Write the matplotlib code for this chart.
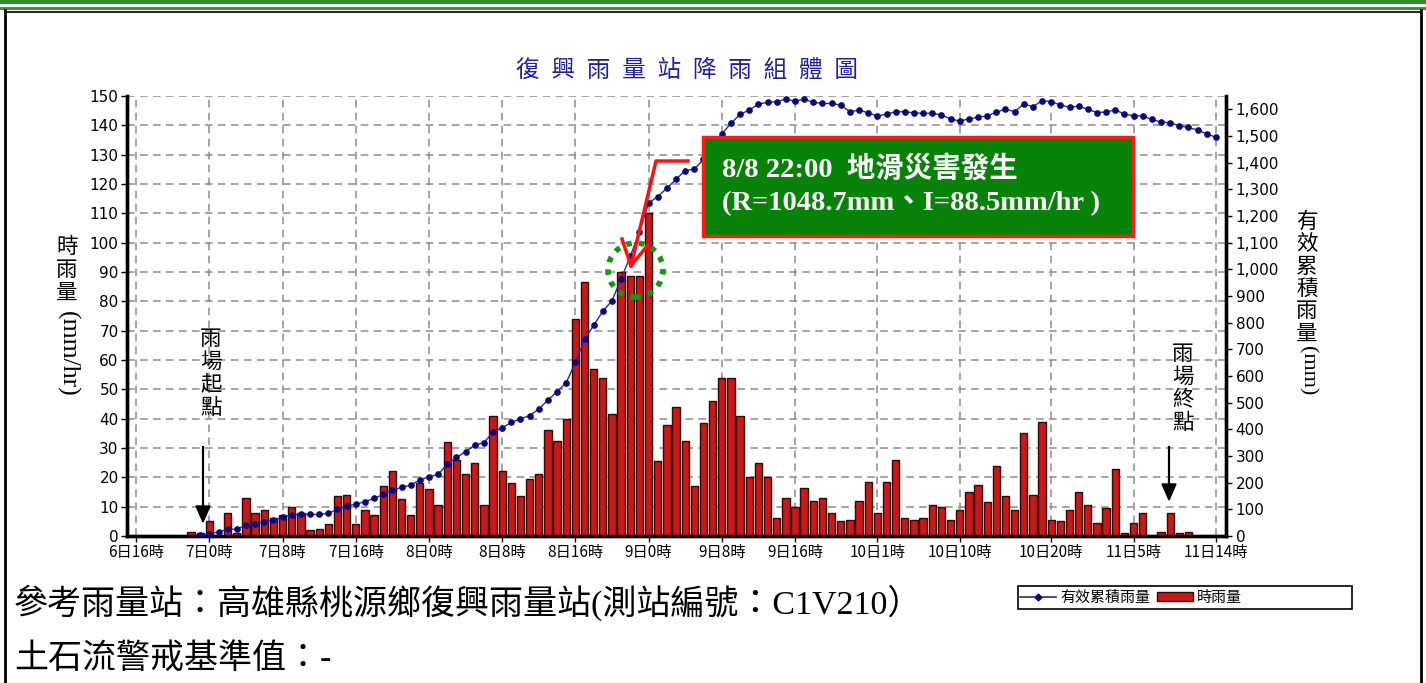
import matplotlib
matplotlib.use("Agg")
import matplotlib.pyplot as plt
from matplotlib.patches import Rectangle, Ellipse, Patch
from matplotlib.lines import Line2D
from matplotlib.ticker import FuncFormatter, MultipleLocator
import numpy as np

# ---------------- data ----------------
tick_pos = [0, 8, 16, 24, 32, 40, 48, 56, 64, 72, 81, 90, 100, 109, 118]
tick_labels = ["6日16時", "7日0時", "7日8時", "7日16時", "8日0時", "8日8時", "8日16時",
               "9日0時", "9日8時", "9日16時", "10日1時", "10日10時", "10日20時",
               "11日5時", "11日14時"]

hourly_rain = [0, 0, 0, 0, 0, 0, 1.5, 1, 5, 0.5, 8, 1, 13, 8, 9, 6, 7, 10, 8, 2,
               2.5, 4, 13.5, 14, 4, 9, 7, 17, 22, 12.5, 7, 18, 16, 10.5, 32, 26, 21, 25, 10.5, 41,
               22, 18, 13.5, 19.5, 21, 36, 32.5, 40, 74, 86.5, 57, 54, 41.5, 90, 88.5, 88.5, 110, 25.5, 38, 44,
               32.5, 17, 38.5, 46, 54, 54, 41, 20, 25, 20, 6, 13, 10, 16.5, 12, 13, 8, 5, 5.5, 12,
               18.5, 8, 18.5, 26, 6, 5.5, 6, 10.5, 10, 5.5, 9, 15, 17.5, 11.5, 24, 13.5, 9, 35, 14, 39,
               5.5, 5, 9, 15, 10.5, 4.5, 9.5, 23, 1, 4.5, 8, 0, 1.5, 8, 1, 1.5, 0, 0, 0]

cum_start = 7
effective_cum = [2, 7.5, 16, 25, 26, 41, 45, 54, 60, 70, 79, 81, 81, 81, 85, 100, 112, 119, 129, 141,
                 156, 172, 182, 191, 210, 222, 231, 269, 295, 316, 341, 350, 389, 406, 426, 440, 451, 476, 510, 541,
                 575, 651, 738, 790, 843, 882, 965, 1048.7, 1141, 1248, 1273, 1304, 1338, 1370, 1376, 1412, 1458, 1508, 1547, 1582,
                 1597, 1620, 1626, 1629, 1638, 1631, 1638, 1626, 1622, 1622, 1616, 1591, 1597, 1587, 1575, 1582, 1591, 1591, 1587, 1585,
                 1585, 1579, 1564, 1556, 1564, 1570, 1576, 1589, 1601, 1591, 1620, 1610, 1632, 1629, 1616, 1608, 1612, 1600, 1588, 1590,
                 1598, 1582, 1576, 1575, 1562, 1552, 1550, 1538, 1532, 1522, 1508, 1495]

title = "復興雨量站降雨組體圖"
legend_line_label = "有效累積雨量"
legend_bar_label = "時雨量"
box_line1 = "8/8 22:00  地滑災害發生"
box_line2 = "(R=1048.7mm、I=88.5mm/hr )"
footer1 = "參考雨量站：高雄縣桃源鄉復興雨量站(測站編號：C1V210）"
footer2 = "土石流警戒基準值：-"

# ---------------- figure ----------------
W, H = 1426, 683
fig = plt.figure(figsize=(W / 100, H / 100), dpi=100)
fig.patch.set_facecolor("white")

CJK = ["Noto Sans CJK TC", "DejaVu Sans"]
SERIF_CJK = ["Liberation Serif", "Noto Sans CJK TC"]


def fx(px):
    return px / W


def fy(py):
    return 1 - py / H


ax = fig.add_axes([fx(127), fy(536), fx(1226) - fx(127), fy(96) - fy(536)])
ax2 = ax.twinx()

x_bars = np.arange(len(hourly_rain))
ax.bar(x_bars, hourly_rain, width=0.8, color="#c81818", edgecolor="#3a0505",
       linewidth=1.0, zorder=3)

x_cum = np.arange(cum_start, cum_start + len(effective_cum))
ax2.plot(x_cum, effective_cum, color="#2a2aa0", linewidth=1.0, marker="o",
         markersize=3.8, markerfacecolor="#0a0a80", markeredgecolor="#0a0a80", zorder=4)

ax.set_xlim(-1, 119.1)
ax.set_ylim(0, 150)
ax2.set_ylim(0, 1650)

ax.yaxis.set_major_locator(MultipleLocator(10))
ax2.yaxis.set_major_locator(MultipleLocator(100))
ax2.yaxis.set_major_formatter(FuncFormatter(lambda v, p: f"{int(v):,}" if v <= 1600 else ""))

ax.set_xticks(tick_pos)
ax.set_xticklabels(tick_labels, family=CJK, fontsize=13)

ax.grid(True, color="#8c8c8c", linestyle=(0, (5, 3.5)), linewidth=1.1)
ax.set_axisbelow(True)

for a in (ax, ax2):
    for s in a.spines.values():
        s.set_linewidth(2.4)
        s.set_color("black")
    a.spines["top"].set_visible(False)
ax.tick_params(axis="both", direction="out", length=4, width=1, labelsize=11, pad=2)
ax2.tick_params(axis="y", direction="out", length=4, width=1, labelsize=11, pad=3)
ax.tick_params(axis="x", pad=2)

# ---------------- axis labels (vertical, stacked) ----------------
fig.text(fx(67), fy(236), "時\n雨\n量", family=CJK, fontsize=15.5, ha="center", va="top",
         linespacing=1.05)
fig.text(fx(67), fy(354), "(mm/hr)", family=["Liberation Serif"], fontsize=18.5, rotation=-90,
         ha="center", va="center")
fig.text(fx(1307), fy(211), "有\n效\n累\n積\n雨\n量", family=CJK, fontsize=15.5, ha="center",
         va="top", linespacing=1.02)
fig.text(fx(1307), fy(371), "(mm)", family=["Liberation Serif"], fontsize=16, rotation=-90,
         ha="center", va="center")

# ---------------- title ----------------
fig.text(fx(687), fy(70), "\u2002".join(title), family=CJK, fontsize=17, color="#1f1fa6",
         ha="center", va="center")

# ---------------- rain start / end annotations ----------------
fig.text(fx(211), fy(328), "雨\n場\n起\n點", family=CJK, fontsize=15.5, ha="center", va="top",
         linespacing=1.05)
fig.text(fx(1183), fy(343), "雨\n場\n終\n點", family=CJK, fontsize=15.5, ha="center", va="top",
         linespacing=1.05)
fig.add_artist(Line2D([fx(203), fx(203)], [fy(447), fy(510)], color="black", lw=1.6))
fig.patches.append(plt.Polygon([[fx(196), fy(506)], [fx(210), fy(506)], [fx(203), fy(522)]],
                               closed=True, color="black", transform=fig.transFigure, figure=fig))
fig.add_artist(Line2D([fx(1169), fx(1169)], [fy(447), fy(488)], color="black", lw=1.6))
fig.patches.append(plt.Polygon([[fx(1162), fy(484)], [fx(1176), fy(484)], [fx(1169), fy(500)]],
                               closed=True, color="black", transform=fig.transFigure, figure=fig))

# ---------------- event box ----------------
fig.patches.append(Rectangle((fx(703), fy(236)), fx(1133) - fx(703), fy(137) - fy(236),
                             facecolor="#088208", edgecolor="#ff1a1a", linewidth=2.5,
                             transform=fig.transFigure, figure=fig, zorder=5))
fig.text(fx(722), fy(170), box_line1, family=SERIF_CJK, fontsize=20.5, weight="bold",
         color="white", ha="left", va="center", zorder=6)
fig.text(fx(722), fy(204), box_line2, family=SERIF_CJK, fontsize=20.5, weight="bold",
         color="white", ha="left", va="center", zorder=6)

# connector + arrow
fig.add_artist(Line2D([fx(688), fx(656), fx(631)], [fy(161), fy(161), fy(266)],
                      color="#ff1010", lw=2.5, zorder=6))
fig.add_artist(Line2D([fx(622), fx(631), fx(647)], [fy(239), fy(266), fy(246)],
                      color="#ff1010", lw=2.5, zorder=6))
fig.patches.append(Ellipse((fx(635.5), fy(270)), 55 / W, 54 / H, fill=False,
                           edgecolor="#139913", linewidth=4, linestyle=(0, (1, 1.3)),
                           transform=fig.transFigure, figure=fig, zorder=6))

# ---------------- legend ----------------
fig.patches.append(Rectangle((fx(1018), fy(609)), fx(1352) - fx(1018), fy(586) - fy(609),
                             facecolor="white", edgecolor="black", linewidth=1.2,
                             transform=fig.transFigure, figure=fig))
handles = [Line2D([], [], color="#2a2aa0", lw=1.2, marker="D", markersize=3.5,
                  markerfacecolor="#0a0a80", markeredgecolor="#0a0a80"),
           Patch(facecolor="#c81818", edgecolor="#3a0505")]
fig.legend(handles, [legend_line_label, legend_bar_label], loc="center left",
           bbox_to_anchor=(fx(1020), fy(597.5)), ncol=2, frameon=False,
           prop={"family": CJK, "size": 10.8}, handlelength=2.4, handleheight=0.6,
           handletextpad=0.3, columnspacing=0.4, borderpad=0.0, borderaxespad=0.0)

# ---------------- footer text ----------------
fig.text(fx(14), fy(603), footer1, family=SERIF_CJK, fontsize=24.5, ha="left", va="center")
fig.text(fx(14), fy(659), footer2, family=SERIF_CJK, fontsize=24.5, ha="left", va="center")

# ---------------- outer frame ----------------
fig.add_artist(Line2D([0, 1], [fy(2), fy(2)], color="#2f8f2f", lw=3))
fig.add_artist(Line2D([0, 1], [fy(8), fy(8)], color="#2f8f2f", lw=2))
fig.add_artist(Line2D([fx(5), fx(5)], [fy(10), 0], color="black", lw=2))
fig.add_artist(Line2D([fx(1421), fx(1421)], [fy(10), 0], color="black", lw=2))
fig.add_artist(Line2D([fx(5), fx(1421)], [fy(12), fy(12)], color="black", lw=1.2))

fig.savefig("out.png", dpi=100)
